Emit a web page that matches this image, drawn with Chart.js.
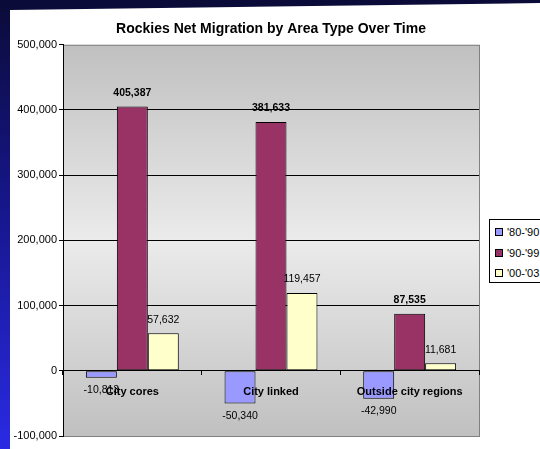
<!DOCTYPE html>
<html>
<head>
<meta charset="utf-8">
<script src="https://cdn.jsdelivr.net/npm/chart.js@4"></script>
<style>
  html, body { margin: 0; padding: 0; }
  body {
    width: 540px; height: 449px; overflow: hidden; position: relative;
    background: linear-gradient(to bottom, #0b0b38 0%, #16168a 45%, #2a2ae4 100%);
  }
  #panel {
    position: absolute; left: 10px; top: 3px; width: 530px; height: 446px;
    background: #fff;
    clip-path: polygon(0 7px, 100% 0, 100% 100%, 0 100%);
  }
  #chart { position: absolute; left: 0; top: 0; }
  #legend {
    position: absolute; left: 489px; top: 219px; width: 70px; height: 62px;
    border: 1px solid #000; background: #fff;
    font: 11px "Liberation Sans", Arial, sans-serif; color: #000;
  }
  #legend div { position: absolute; left: 5px; height: 12px; line-height: 12px; white-space: nowrap; color: #000; }
  #legend span { display: inline-block; width: 6px; height: 6px; border: 1px solid #000; margin-right: 4px; vertical-align: 0px; }
</style>
</head>
<body>
<div id="panel"></div>
<canvas id="chart" width="540" height="449"></canvas>
<div id="legend"></div>
<script>
const categories = ['City cores', 'City linked', 'Outside city regions'];
const periods = ["'80-'90", "'90-'99", "'00-'03"];
const migration80s = [-10813, -50340, -42990];
const migration90s = [405387, 381633, 87535];
const migration00s = [57632, 119457, 11681];
const periodColors = ['#9999ff', '#993366', '#ffffcc'];

Chart.defaults.font.family = '"Liberation Sans", Arial, sans-serif';
Chart.defaults.color = '#000';

// gray plot background with a lighter band in the middle
const plotBackground = {
    id: 'plotBackground',
    beforeDraw(chart) {
        const { ctx, chartArea: a } = chart;
        const g = ctx.createLinearGradient(0, a.top, 0, a.bottom);
        g.addColorStop(0, '#c0c0c0');
        g.addColorStop(0.5, '#ebebeb');
        g.addColorStop(1, '#c0c0c0');
        ctx.save();
        ctx.fillStyle = g;
        ctx.fillRect(a.left, a.top, a.right - a.left, a.bottom - a.top);
        ctx.strokeStyle = '#808080';
        ctx.lineWidth = 1;
        ctx.strokeRect(a.left + 0.5, a.top + 0.5, a.right - a.left, a.bottom - a.top);
        ctx.restore();
    }
};

// value labels above / below each bar
const valueLabels = {
    id: 'valueLabels',
    afterDatasetsDraw(chart) {
        const ctx = chart.ctx;
        ctx.save();
        ctx.textAlign = 'center';
        ctx.textBaseline = 'middle';
        ctx.fillStyle = '#000';
        chart.data.datasets.forEach((ds, i) => {
            const meta = chart.getDatasetMeta(i);
            ctx.font = (i === 1 ? 'bold ' : '') + '10.5px "Liberation Sans", Arial, sans-serif';
            meta.data.forEach((bar, j) => {
                const v = ds.data[j];
                const y = v >= 0 ? bar.y - 13.5 : bar.y + 12;
                ctx.fillText(v.toLocaleString('en-US'), bar.x, y);
            });
        });
        ctx.restore();
    }
};

const barStyle = { borderColor: '#000', borderWidth: 1, borderSkipped: false };

const chart = new Chart(document.getElementById('chart'), {
    type: 'bar',
    data: {
        labels: categories,
        datasets: [
            { label: periods[0], data: migration80s, backgroundColor: periodColors[0], ...barStyle },
            { label: periods[1], data: migration90s, backgroundColor: periodColors[1], ...barStyle },
            { label: periods[2], data: migration00s, backgroundColor: periodColors[2], ...barStyle }
        ]
    },
    options: {
        responsive: false,
        devicePixelRatio: 1,
        animation: false,
        layout: { padding: { left: 0, right: 61, top: 0, bottom: 13 } },
        datasets: {
            bar: { barPercentage: 1, categoryPercentage: 0.67 }
        },
        scales: {
            x: {
                type: 'category',
                position: { y: 0 },
                offset: true,
                grid: { drawOnChartArea: false, offset: true, tickLength: 4, color: '#000' },
                border: { color: '#000' },
                ticks: { font: { size: 11, weight: 'bold' }, color: '#000', padding: 11, z: 1 }
            },
            y: {
                min: -100000,
                max: 500000,
                afterFit(scale) { scale.width = 63; },
                grid: {
                    color: (c) => (c.tick && (c.tick.value === 500000 || c.tick.value === -100000)) ? 'rgba(0,0,0,0)' : '#000',
                    tickColor: '#000',
                    tickLength: 4
                },
                border: { color: '#000' },
                ticks: {
                    stepSize: 100000,
                    padding: 2,
                    font: { size: 11 },
                    color: '#000',
                    callback: (v) => v.toLocaleString('en-US')
                }
            }
        },
        plugins: {
            legend: { display: false },
            tooltip: { enabled: false },
            title: {
                display: true,
                fullSize: false,
                text: 'Rockies Net Migration by Area Type Over Time',
                color: '#000',
                font: { size: 14, weight: 'bold' },
                padding: { top: 21, bottom: 7 }
            }
        }
    },
    plugins: [plotBackground, valueLabels]
});

// legend box built from the chart's datasets
const legend = document.getElementById('legend');
chart.data.datasets.forEach((ds, i) => {
    const row = document.createElement('div');
    row.style.top = (6 + i * 20.5) + 'px';
    const box = document.createElement('span');
    box.style.background = ds.backgroundColor;
    row.appendChild(box);
    row.appendChild(document.createTextNode(ds.label));
    legend.appendChild(row);
});
</script>
</body>
</html>
